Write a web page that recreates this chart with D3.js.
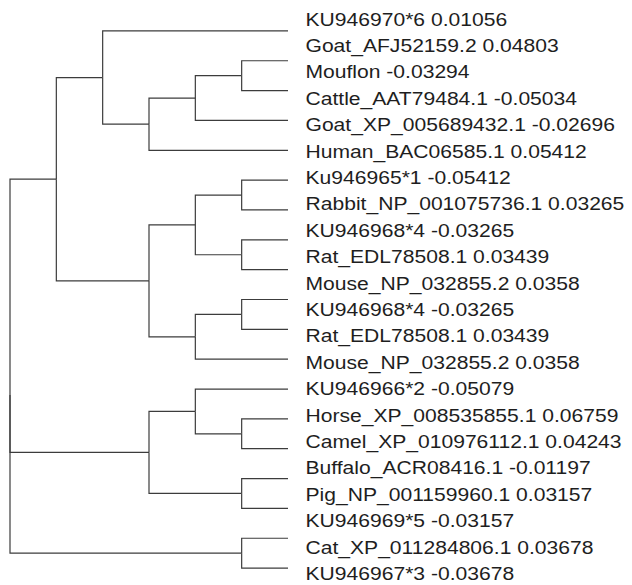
<!DOCTYPE html>
<html>
<head>
<meta charset="utf-8">
<script src="https://cdn.jsdelivr.net/npm/d3@7"></script>
<style>
  body { margin: 0; background: #fff; }
  svg { display: block; }
</style>
</head>
<body>
<div id="graph"></div>
<script>
// label column (it is listed evenly, independent of the tree leaves)
const names = [
    "KU946970*6", "Goat_AFJ52159.2", "Mouflon", "Cattle_AAT79484.1",
    "Goat_XP_005689432.1", "Human_BAC06585.1", "Ku946965*1", "Rabbit_NP_001075736.1",
    "KU946968*4", "Rat_EDL78508.1", "Mouse_NP_032855.2", "KU946968*4",
    "Rat_EDL78508.1", "Mouse_NP_032855.2", "KU946966*2", "Horse_XP_008535855.1",
    "Camel_XP_010976112.1", "Buffalo_ACR08416.1", "Pig_NP_001159960.1", "KU946969*5",
    "Cat_XP_011284806.1", "KU946967*3"
];
const values = [
    0.01056, 0.04803, -0.03294, -0.05034, -0.02696, 0.05412, -0.05412, 0.03265,
    -0.03265, 0.03439, 0.0358, -0.03265, 0.03439, 0.0358, -0.05079, 0.06759,
    0.04243, -0.01197, 0.03157, -0.03157, 0.03678, -0.03678
];

// topology of the dendrogram, leaves numbered top to bottom
const tree = [
    [
        [0, [[[1, 2], 3], 4]],
        [[[5, 6], [7, 8]], [[9, 10], 11]]
    ],
    [[12, [13, 14]], [15, 16]],
    [17, 18]
];

const width = 632;
const height = 585;
const margin = {top: 16, left: 10};
const treeWidth = 278;
const treeHeight = 567;

const svg = d3.select("#graph")
    .append("svg")
    .attr("width", width)
    .attr("height", height);

const root = d3.hierarchy(tree, d => Array.isArray(d) ? d : null);

d3.cluster()
    .size([treeHeight, treeWidth])
    .separation(() => 1)(root);

const graph = svg.append("g")
    .attr("transform", `translate(${margin.left}, ${margin.top})`);

graph.selectAll("path")
    .data(root.links())
    .join("path")
    .attr("fill", "none")
    .attr("stroke", "#3c3c3c")
    .attr("stroke-width", 1.2)
    .attr("d", d => `M${d.source.y},${d.source.x}V${d.target.x}H${d.target.y}`);

const yLabel = d3.scalePoint()
    .domain(d3.range(names.length))
    .range([25.7, 580]);

svg.append("g")
    .selectAll("text")
    .data(names)
    .join("text")
    .attr("transform", (d, i) => `translate(305.5, ${yLabel(i)}) scale(1.14, 1)`)
    .attr("font-family", "'Liberation Sans', Arial, sans-serif")
    .attr("font-size", 18.5)
    .attr("fill", "#1e1e1e")
    .text((d, i) => `${d} ${values[i]}`);
</script>
</body>
</html>
